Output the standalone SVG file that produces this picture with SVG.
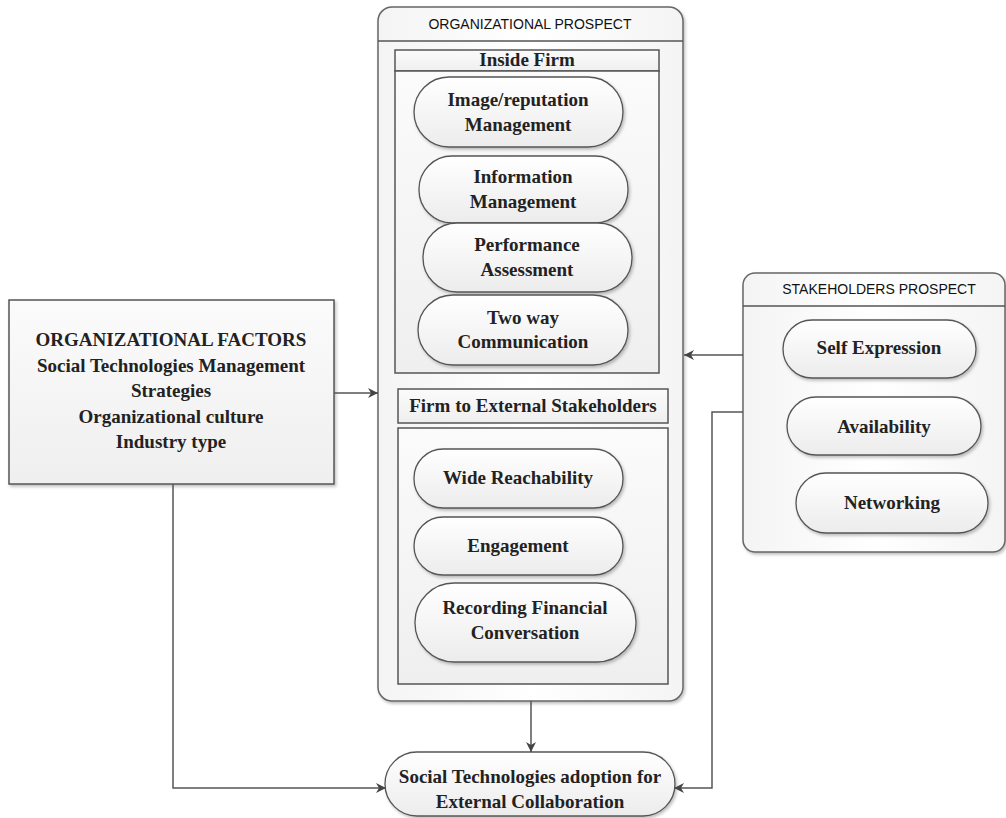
<svg xmlns="http://www.w3.org/2000/svg" width="1006" height="818" viewBox="0 0 1006 818">
<defs>
<linearGradient id="gOval" x1="0" y1="0" x2="0" y2="1">
<stop offset="0" stop-color="#ffffff"/><stop offset="1" stop-color="#ececec"/>
</linearGradient>
<linearGradient id="gBox" x1="0" y1="0" x2="0" y2="1">
<stop offset="0" stop-color="#fbfbfb"/><stop offset="1" stop-color="#efefef"/>
</linearGradient>
<linearGradient id="gOuter" x1="0" y1="0" x2="1" y2="0">
<stop offset="0" stop-color="#f4f4f4"/><stop offset="0.5" stop-color="#ffffff"/><stop offset="1" stop-color="#f4f4f4"/>
</linearGradient>
<filter id="sh" x="-10%" y="-10%" width="130%" height="130%">
<feDropShadow dx="1.5" dy="2" stdDeviation="1.5" flood-color="#000" flood-opacity="0.25"/>
</filter>
<marker id="arr" viewBox="0 0 10 10" refX="10" refY="5" markerWidth="10" markerHeight="10" markerUnits="userSpaceOnUse" orient="auto">
<path d="M0,0 L10,5 L0,10 L3,5 Z" fill="#444"/>
</marker>
</defs>
<style>
.box{fill:url(#gBox);stroke:#555;stroke-width:1.5}
.outer{fill:url(#gOuter);stroke:#666;stroke-width:1.5}
.oval{fill:url(#gOval);stroke:#555;stroke-width:1.3;filter:url(#sh)}
.line{fill:none;stroke:#555;stroke-width:1.5}
.t{font-family:"Liberation Serif","Times New Roman",serif;font-weight:bold;font-size:19px;fill:#222;text-anchor:middle}
.h{font-family:"Liberation Sans",Arial,sans-serif;font-size:14px;fill:#111;text-anchor:middle}
</style>

<g id="org-prospect">
<rect class="outer" x="378" y="7" width="305" height="694" rx="14" filter="url(#sh)"/>
<line class="line" x1="378" y1="41" x2="683" y2="41"/>
<text class="h" x="530" y="29" font-size="14.6">ORGANIZATIONAL PROSPECT</text>
</g>

<g id="inside-firm">
<rect class="box" x="395" y="50" width="264" height="21"/>
<rect class="box" x="395" y="71" width="264" height="302"/>
<text class="t" x="527" y="66" font-size="17">Inside Firm</text>
</g>

<g id="image-reputation">
<rect class="oval" x="414" y="77" width="209" height="70" rx="35"/>
<text class="t" x="518" y="106">Image/reputation</text>
<text class="t" x="518" y="131">Management</text>
</g>
<g id="information-management">
<rect class="oval" x="419" y="156" width="209" height="67" rx="33"/>
<text class="t" x="523" y="183">Information</text>
<text class="t" x="523" y="208">Management</text>
</g>
<g id="performance-assessment">
<rect class="oval" x="423" y="223" width="209" height="69" rx="34"/>
<text class="t" x="527" y="251">Performance</text>
<text class="t" x="527" y="276">Assessment</text>
</g>
<g id="two-way">
<rect class="oval" x="418" y="295" width="210" height="70" rx="35"/>
<text class="t" x="523" y="324">Two way</text>
<text class="t" x="523" y="348">Communication</text>
</g>

<g id="firm-external">
<rect class="box" x="398" y="389" width="270" height="34"/>
<text class="t" x="533" y="412" font-size="17">Firm to External Stakeholders</text>
<rect class="box" x="398" y="428" width="270" height="256"/>
</g>
<g id="wide-reachability">
<rect class="oval" x="414" y="449" width="209" height="59" rx="29"/>
<text class="t" x="518" y="484">Wide Reachability</text>
</g>
<g id="engagement">
<rect class="oval" x="414" y="517" width="209" height="58" rx="29"/>
<text class="t" x="518" y="552">Engagement</text>
</g>
<g id="recording">
<rect class="oval" x="415" y="583" width="221" height="79" rx="39"/>
<text class="t" x="525" y="614">Recording Financial</text>
<text class="t" x="525" y="639">Conversation</text>
</g>

<g id="org-factors">
<rect class="box" x="9" y="300" width="325" height="184" filter="url(#sh)"/>
<text class="t" x="171" y="346">ORGANIZATIONAL FACTORS</text>
<text class="t" x="171" y="372">Social Technologies Management</text>
<text class="t" x="171" y="397">Strategies</text>
<text class="t" x="171" y="423">Organizational culture</text>
<text class="t" x="171" y="448">Industry type</text>
</g>

<g id="stakeholders-prospect">
<rect class="outer" x="743" y="273" width="262" height="279" rx="12" filter="url(#sh)"/>
<line class="line" x1="743" y1="306" x2="1005" y2="306"/>
<text class="h" x="879" y="294">STAKEHOLDERS PROSPECT</text>
</g>
<g id="self-expression">
<rect class="oval" x="783" y="320" width="193" height="58" rx="29"/>
<text class="t" x="879" y="354">Self Expression</text>
</g>
<g id="availability">
<rect class="oval" x="787" y="397" width="194" height="58" rx="29"/>
<text class="t" x="884" y="433">Availability</text>
</g>
<g id="networking">
<rect class="oval" x="796" y="473" width="192" height="60" rx="30"/>
<text class="t" x="892" y="509">Networking</text>
</g>

<g id="adoption">
<rect class="oval" x="385" y="752" width="290" height="64" rx="32"/>
<text class="t" x="530" y="783">Social Technologies adoption for</text>
<text class="t" x="530" y="808">External Collaboration</text>
</g>

<g id="connectors">
<path class="line" d="M334,393 H378" marker-end="url(#arr)"/>
<path class="line" d="M743,355 H684" marker-end="url(#arr)"/>
<path class="line" d="M531,701 V752" marker-end="url(#arr)"/>
<path class="line" d="M173,484 V788 H386" marker-end="url(#arr)"/>
<path class="line" d="M743,412 H712 V788 H674" marker-end="url(#arr)"/>
</g>
</svg>
